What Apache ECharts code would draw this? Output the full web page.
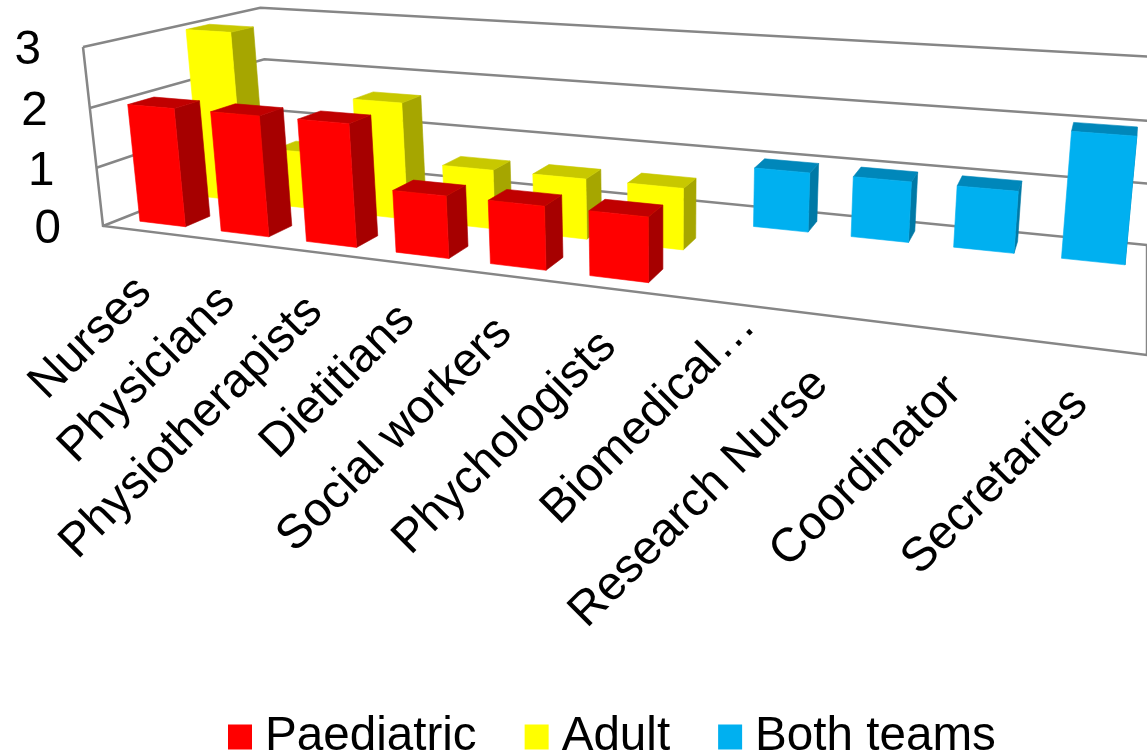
<!DOCTYPE html>
<html><head><meta charset="utf-8">
<style>html,body{margin:0;padding:0;background:#fff;overflow:hidden}#c{width:1147px;height:754px}</style>
<script src="https://cdn.jsdelivr.net/npm/echarts@6/dist/echarts.min.js"></script>
</head><body><div id="c"></div>
<script>
const categories = ['Nurses','Physicians','Physiotherapists','Dietitians','Social workers','Phychologists','Biomedical…','Research Nurse','Coordinator','Secretaries'];
const paediatric = [2,2,2,1,1,1,null,null,null,null];
const adult      = [3,1,2,1,1,1,null,null,null,null];
const bothTeams  = [null,null,null,null,null,null,1,1,1,2];
const valueTicks = [0,1,2,3];

const FONT = '"Liberation Sans", Arial, sans-serif';
const FS = 47.6;
const GRID = {left:103, top:47, width:1044, height:179};
// per-label nudge of the slanted category labels, [dx, dy] in px
const labelNudgeX = [0,0,0,0,0,2,33,-9,3,0];
const labelNudgeY = [2,1,0,-3,-2,-1,-35,9,1,-2];
// perspective camera fitted to the frame corners
const O={x:103,y:226}, XP={x:1147,y:355}, YP={x:83,y:47}, ZP={x:272,y:159};
const G=-0.24, H=-0.0343, I=0.1931;
function project(X,Y,Z){
  const d=1+G*X+H*Y+I*Z;
  const f=(k)=>(O[k]+(XP[k]*(1+G)-O[k])*X+(YP[k]*(1+H)-O[k])*Y+(ZP[k]*(1+I)-O[k])*Z)/d;
  return [f('x'),f('y')];
}
function unit(p,cs){ return [(p[0]-cs.x)/cs.width,(cs.y+cs.height-p[1])/cs.height]; }
const BAR_FRAC=0.283, BAR_SHIFT=0.0025;
function boxSeries(name,values,colors,z0,z1){
  return {
    name,type:'custom',coordinateSystem:'cartesian2d',itemStyle:{color:colors[0]},
    data:values.map((v,i)=>[i,v]),encode:{x:0,y:1},silent:true,
    renderItem(params,api){
      const v=api.value(1); if(v==null||isNaN(v)) return null;
      const cs=params.coordSys, band=api.size([1,0])[0];
      const t=unit(api.coord([api.value(0),v]),cs), b=unit(api.coord([api.value(0),0]),cs);
      const w=BAR_FRAC*band/cs.width, x0=t[0]-w+BAR_SHIFT, x1=t[0]+w+BAR_SHIFT, y1=t[1], y0=b[1];
      const poly=(pts,c)=>({type:'polygon',shape:{points:pts},style:{fill:c,stroke:c,lineWidth:0.6}});
      return {type:'group',children:[
        poly([project(x1,y0,z0),project(x1,y0,z1),project(x1,y1,z1),project(x1,y1,z0)],colors[1]),
        poly([project(x0,y1,z0),project(x1,y1,z0),project(x1,y1,z1),project(x0,y1,z1)],colors[2]),
        poly([project(x0,y0,z0),project(x1,y0,z0),project(x1,y1,z0),project(x0,y1,z0)],colors[0])
      ]};
    }
  };
}
const frameSeries={
  name:'frame',type:'custom',coordinateSystem:'cartesian2d',silent:true,z:1,
  data:valueTicks.map(v=>[0,v]),encode:{x:0,y:1},
  renderItem(params,api){
    const cs=params.coordSys, Y=unit(api.coord([0,api.value(1)]),cs)[1];
    const line=(pts)=>({type:'polyline',shape:{points:pts},style:{fill:'none',stroke:'#868686',lineWidth:2.5}});
    const kids=[line([project(0,Y,0),project(0,Y,1),project(1,Y,1)])];
    if(api.value(1)===0){
      kids.push(line([project(0,1,0),project(0,0,0),project(1,0,0),project(1,0,1)]));
    }
    return {type:'group',children:kids};
  }
};
const yLabelSeries={
  name:'ylabels',type:'custom',coordinateSystem:'cartesian2d',silent:true,z:5,
  data:valueTicks.map(v=>[0,v]),encode:{x:0,y:1},
  renderItem(params,api){
    const cs=params.coordSys, Y=unit(api.coord([0,api.value(1)]),cs)[1], p=project(0,Y,0);
    return {type:'text',x:p[0]-42,y:p[1]+4,style:{text:String(api.value(1)),fontSize:FS,fontFamily:FONT,fill:'#000',align:'right',verticalAlign:'middle'}};
  }
};
const xLabelSeries={
  name:'xlabels',type:'custom',coordinateSystem:'cartesian2d',silent:true,z:5,
  data:categories.map((c,i)=>[i,0]),encode:{x:0,y:1},
  renderItem(params,api){
    const cs=params.coordSys, i=api.value(0), t=unit(api.coord([i,0]),cs), p=project(t[0],0,0);
    return {type:'text',x:p[0]+1+labelNudgeX[i],y:p[1]+52+labelNudgeY[i],rotation:Math.PI/4,style:{text:categories[i],fontSize:FS,fontFamily:FONT,fill:'#000',align:'right',verticalAlign:'middle'}};
  }
};
const chart=echarts.init(document.getElementById('c'),null,{renderer:'canvas'});
chart.setOption({
  animation:false,backgroundColor:'#fff',
  grid:Object.assign({},GRID),
  xAxis:{type:'category',data:categories,show:false},
  yAxis:{type:'value',min:0,max:3,interval:1,show:false},
  legend:{data:['Paediatric','Adult','Both teams'],left:223,top:708,icon:'rect',itemWidth:24,itemHeight:25,itemGap:48,
    textStyle:{fontSize:FS,fontFamily:FONT,color:'#000',padding:[0,0,0,8]},selectedMode:false},
  series:[
    frameSeries,
    boxSeries('Both teams',bothTeams,['#00B0F0','#0079A6','#0087BA'],0.76,0.895),
    boxSeries('Adult',adult,['#FFFF00','#A6A600','#C8C800'],0.43,0.565),
    boxSeries('Paediatric',paediatric,['#FF0000','#A60000','#C00000'],0.09,0.225),
    yLabelSeries,xLabelSeries
  ]
});
</script></body></html>
